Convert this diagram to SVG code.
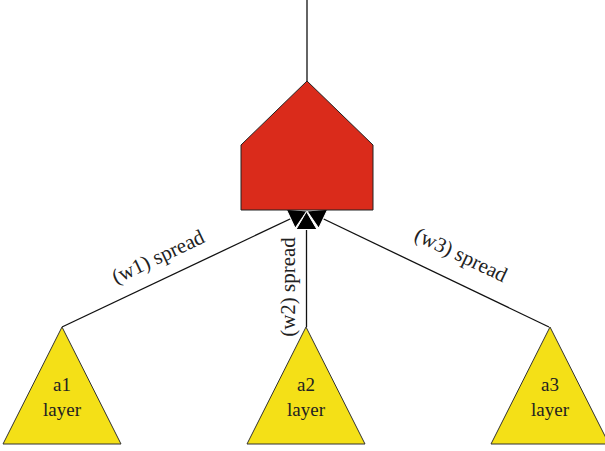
<svg xmlns="http://www.w3.org/2000/svg" width="605" height="451" viewBox="0 0 605 451">
<style>
.conn{stroke:#111;stroke-width:1.3;fill:none}
.tri{fill:#F4E017;stroke:#333;stroke-width:1}
.lbl{font-family:"Liberation Serif",serif;font-size:21px;fill:#222;text-anchor:middle}
.nt{font-family:"Liberation Serif",serif;font-size:19px;fill:#222;text-anchor:middle}
</style>
<defs>
<marker id="ah" markerUnits="userSpaceOnUse" markerWidth="24" markerHeight="24" refX="18" refY="10.5" orient="auto" overflow="visible">
<path d="M0,0 L18,10.5 L0,21 z" fill="#000" stroke="#fff" stroke-width="1"/>
</marker>
</defs>
<rect width="605" height="451" fill="#fff"/>
<g id="connectors">
<line class="conn" x1="307" y1="0" x2="307" y2="81"/>
<line class="conn" x1="62" y1="327" x2="307" y2="211" marker-end="url(#ah)"/>
<line class="conn" x1="549" y1="327" x2="307" y2="211" marker-end="url(#ah)"/>
<line class="conn" x1="306.5" y1="327" x2="306.5" y2="211.5" marker-end="url(#ah)"/>
<text class="lbl" transform="translate(161,263) rotate(-25.3)">(w1) spread</text>
<text class="lbl" transform="translate(295,287) rotate(-90)">(w2) spread</text>
<text class="lbl" transform="translate(458,261) rotate(25.4)">(w3) spread</text>
</g>
<g id="output">
<polygon points="307,81 373,145 373,210 241,210 241,145" fill="#DA2B1B" stroke="#222" stroke-width="1"/>
</g>
<g id="a1">
<polygon class="tri" points="62,327 121,444 3,444"/>
<text class="nt" x="62" y="391">a1</text>
<text class="nt" x="62" y="416">layer</text>
</g>
<g id="a2">
<polygon class="tri" points="306,327 365,444 247,444"/>
<text class="nt" x="306" y="391">a2</text>
<text class="nt" x="306" y="416">layer</text>
</g>
<g id="a3">
<polygon class="tri" points="550,327 609,444 491,444"/>
<text class="nt" x="550" y="391">a3</text>
<text class="nt" x="550" y="416">layer</text>
</g>
</svg>
